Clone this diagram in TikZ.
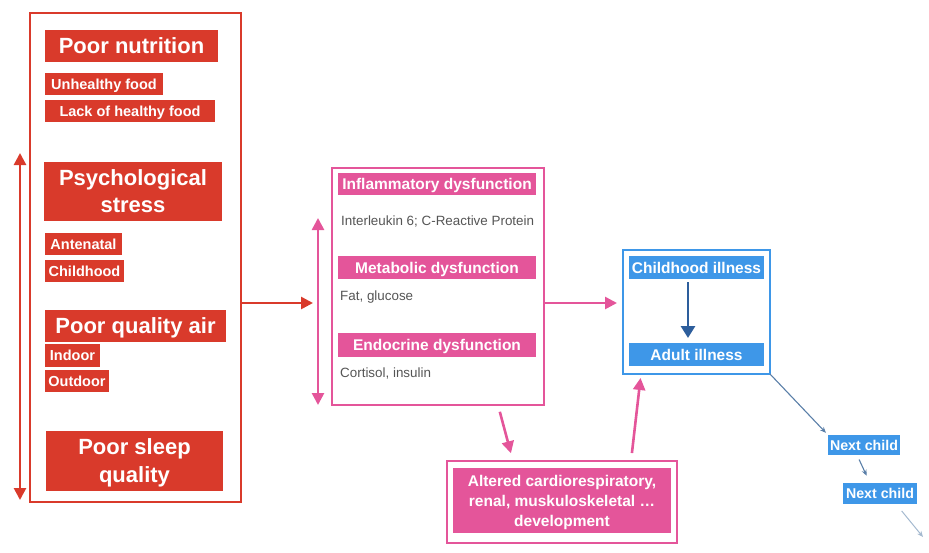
\documentclass[tikz,border=0pt]{standalone}
\usepackage{fontspec}
\setmainfont{Liberation Sans}
\usetikzlibrary{arrows.meta}
\definecolor{riskred}{HTML}{D93A2B}
\definecolor{mechpink}{HTML}{E4559A}
\definecolor{illblue}{HTML}{3E97E8}
\definecolor{deepblue}{HTML}{2D5E9C}
\definecolor{thinblue}{HTML}{5A7FA8}
\definecolor{notegray}{HTML}{555555}
\begin{document}
\begin{tikzpicture}[x=1pt,y=-1pt,
  frame/.style={draw, line width=1.8pt, inner sep=0pt, outer sep=0pt},
  % text height = cap height of the first line plus the skips down to the last baseline
  tag/.style={text=white, inner sep=0pt, outer sep=0pt, align=center,
    text height=#1, text depth=0pt},
  bigtag/.style={tag=#1, font=\bfseries\fontsize{22}{28}\selectfont},
  bigtag/.default=15.75pt,
  smalltag/.style={tag=10.4pt, font=\bfseries\fontsize{14.5}{16}\selectfont},
  headtag/.style={tag=#1, font=\bfseries\fontsize{15.5}{20}\selectfont},
  headtag/.default=11.1pt,
  note/.style={text=notegray, inner sep=0pt, anchor=west, font=\fontsize{13.4}{15}\selectfont},
  redarrow/.style={draw=riskred, line width=2.6pt},
  pinkarrow/.style={draw=mechpink, line width=2.6pt},
  bigtip/.tip={Triangle[length=12pt,width=12pt]},
  thintip/.tip={Stealth[length=6pt,width=5pt]},
]
\useasboundingbox (0,0) rectangle (929,552);

% ---- risk factors ----
\node[frame, draw=riskred, minimum width=211, minimum height=489] (risk) at (135.5,257.5) {};
\node[bigtag, fill=riskred, minimum width=173, minimum height=32] (pn) at (131.5,46) {Poor nutrition};
\node[smalltag, fill=riskred, minimum width=118, minimum height=22] (uf) at (104,84) {Unhealthy food};
\node[smalltag, fill=riskred, minimum width=170, minimum height=22] (lhf) at (130,111) {Lack of healthy food};
\node[bigtag=42.75pt, fill=riskred, minimum width=178, minimum height=59,
  font=\bfseries\fontsize{22}{27}\selectfont] (ps) at (133,191.5) {Psychological\\stress};
\node[smalltag, fill=riskred, minimum width=77, minimum height=22] (ant) at (83.5,244) {Antenatal};
\node[smalltag, fill=riskred, minimum width=79, minimum height=22] (chd) at (84.5,271) {Childhood};
\node[bigtag, fill=riskred, minimum width=181, minimum height=32] (pqa) at (135.5,326) {Poor quality air};
\node[smalltag, fill=riskred, minimum width=55, minimum height=23] (ind) at (72.5,355.5) {Indoor};
\node[smalltag, fill=riskred, minimum width=64, minimum height=22] (outd) at (77,381) {Outdoor};
\node[bigtag=43.75pt, fill=riskred, minimum width=177, minimum height=60] (psq) at (134.5,461) {Poor sleep\\quality};

\coordinate (redtop) at (20,153);
\coordinate (redbot) at (20,500);
\draw[redarrow, bigtip-bigtip] (redtop) -- (redbot);

% ---- mechanisms ----
\node[frame, draw=mechpink, minimum width=212, minimum height=237] (mech) at (438,286.5) {};
\node[headtag, fill=mechpink, minimum width=198, minimum height=22] (infl) at (437,184) {Inflammatory dysfunction};
\node[note] (inflnote) at (341,221) {Interleukin 6; C-Reactive Protein};
\node[headtag, fill=mechpink, minimum width=198, minimum height=23] (meta) at (437,267.5) {Metabolic dysfunction};
\node[note] (metanote) at (340,297) {Fat, glucose};
\node[headtag, fill=mechpink, minimum width=198, minimum height=24] (endo) at (437,345) {Endocrine dysfunction};
\node[note] (endonote) at (340,373) {Cortisol, insulin};

\coordinate (pinktop) at (318,218);
\coordinate (pinkbot) at (318,405);
\draw[pinkarrow, bigtip-bigtip] (pinktop) -- (pinkbot);

\coordinate (flow) at (0,303);
\draw[redarrow, -bigtip, shorten >=19pt] (risk.east |- flow) -- (mech.west |- flow);

% ---- illness ----
\node[frame, draw=illblue, minimum width=147, minimum height=124] (ill) at (696.5,312) {};
\node[headtag, fill=illblue, minimum width=135, minimum height=23] (ci) at (696.5,267.5) {Childhood illness};
\node[headtag, fill=illblue, minimum width=135, minimum height=23] (ai) at (696.5,354.5) {Adult illness};
\draw[draw=deepblue, line width=2.8pt, -{Triangle[length=12pt,width=14pt]}, shorten <=3pt, shorten >=5pt]
  ([xshift=-8.5]ci.south) -- ([xshift=-8.5]ai.north);

\draw[pinkarrow, -bigtip, shorten >=6pt] (mech.east |- flow) -- (ill.west |- flow);

% ---- development ----
\node[frame, draw=mechpink, minimum width=230, minimum height=82] (alt) at (562,502) {};
\node[headtag=51.1pt, fill=mechpink, minimum width=218, minimum height=65] (altin) at (562,500.5)
  {Altered cardiorespiratory,\\renal, muskuloskeletal \dots\\development};

\draw[pinkarrow, -bigtip, shorten <=7pt, shorten >=8pt]
  ([xshift=60]mech.south) -- ([xshift=-49]alt.north);
\draw[pinkarrow, -bigtip, shorten <=8pt, shorten >=4pt]
  ([xshift=69]alt.north) -- ([xshift=-55.5]ill.south);

% ---- next generations ----
\node[tag=10.2pt, fill=illblue, minimum width=72, minimum height=20,
  font=\bfseries\fontsize{14.2}{16}\selectfont] (nc1) at (864,445) {Next child};
\node[tag=10.2pt, fill=illblue, minimum width=74, minimum height=21,
  font=\bfseries\fontsize{14.2}{16}\selectfont] (nc2) at (880,493.5) {Next child};
\coordinate (onward) at (923,537);

\draw[draw=thinblue, line width=1.1pt, -thintip, shorten >=3pt]
  (ill.south east) -- (nc1.north west);
\draw[draw=thinblue, line width=1.1pt, -thintip, shorten <=5pt, shorten >=8pt]
  ([xshift=-7]nc1.south) -- ([xshift=-10]nc2.north);
\draw[draw=thinblue!55, line width=1pt, -thintip, shorten <=9pt]
  ([xshift=16]nc2.south) -- (onward);
\end{tikzpicture}
\end{document}
